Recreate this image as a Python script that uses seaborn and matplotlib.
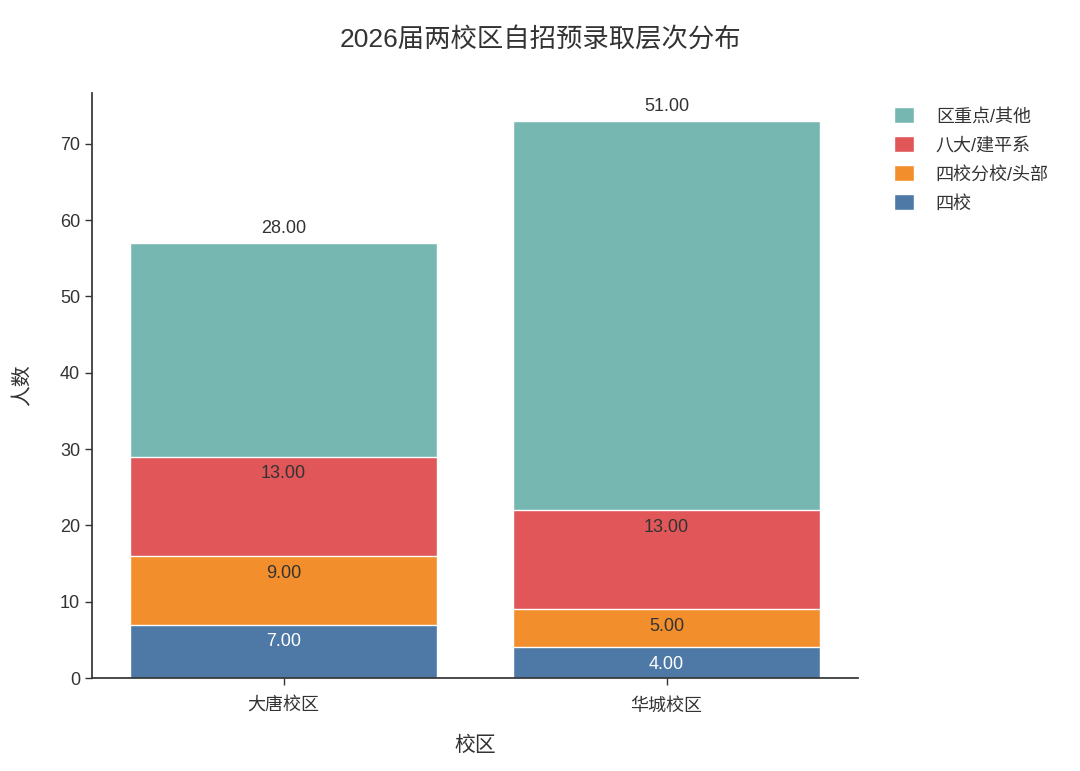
import numpy as np
import pandas as pd
import seaborn as sns
import matplotlib.pyplot as plt

campuses = ['大唐校区', '华城校区']
levels = ['四校', '四校分校/头部', '八大/建平系', '区重点/其他']
sixiao = [7, 4]
fenxiao = [9, 5]
bada = [13, 13]
qita = [28, 51]
colors = ['#4e79a7', '#f28e2b', '#e15759', '#76b7b2']
label_colors = ['white', '#333333', '#333333', '#333333']

sns.set_theme(style='ticks')
plt.rcParams['font.family'] = ['Liberation Sans', 'Noto Sans CJK SC']
plt.rcParams['axes.unicode_minus'] = False
plt.rcParams['text.color'] = '#333333'
plt.rcParams['axes.labelcolor'] = '#333333'
plt.rcParams['xtick.color'] = '#333333'
plt.rcParams['ytick.color'] = '#333333'

segments = np.array([sixiao, fenxiao, bada, qita], dtype=float)
cum = segments.cumsum(axis=0)

fig = plt.figure(figsize=(10.8, 7.71), dpi=100)
ax = fig.add_axes([0.0852, 0.1206, 0.7093, 0.7588])

# draw tallest (cumulative) layer first, then overlay the lower ones
handles = {}
for i in range(len(levels) - 1, -1, -1):
    df = pd.DataFrame({'校区': campuses, '人数': cum[i]})
    sns.barplot(data=df, x='校区', y='人数', color=colors[i], saturation=1,
                width=0.8, edgecolor='white', linewidth=1, ax=ax)
    cont = ax.containers[-1]
    handles[levels[i]] = cont
    labels = [f'{v:.2f}' for v in segments[i]]
    if i == len(levels) - 1:
        ax.bar_label(cont, labels=labels, padding=4, fontsize=13, color='#333333')
    else:
        ax.bar_label(cont, labels=labels, padding=-18.5, fontsize=13,
                     color=label_colors[i])

ax.set_ylim(0, cum[-1].max() * 1.05)
ax.set_xlim(-0.5, 1.5)
ax.set_yticks(range(0, 71, 10))
ax.tick_params(axis='both', labelsize=13, length=5, width=1)
ax.tick_params(axis='x', pad=9)
ax.set_xlabel('校区', fontsize=15, labelpad=15)
ax.set_ylabel('人数', fontsize=15, labelpad=20)
sns.despine(ax=ax)
for s in ['left', 'bottom']:
    ax.spines[s].set_color('#333333')

leg_order = levels[::-1]
ax.legend([handles[k] for k in leg_order], leg_order, loc='upper left',
          bbox_to_anchor=(1.026, 1.004), frameon=False, fontsize=13,
          handlelength=1.1, handleheight=1.0, handletextpad=1.2,
          labelspacing=0.6)

fig.suptitle('2026届两校区自招预录取层次分布', fontsize=19, y=0.964, color='#333333')

fig.savefig('out.png', dpi=100)
